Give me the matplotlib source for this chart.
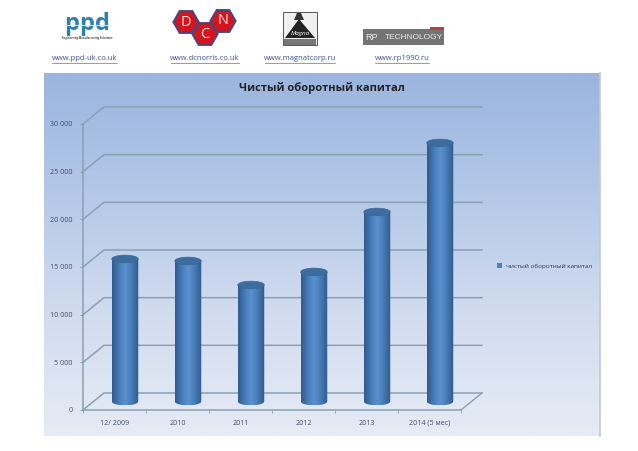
import numpy as np
import matplotlib
matplotlib.use('Agg')
import matplotlib.pyplot as plt
from matplotlib.colors import LinearSegmentedColormap
from matplotlib.patches import Ellipse, PathPatch, Polygon, Rectangle, RegularPolygon, Patch
from matplotlib.path import Path

categories = ['12/ 2009', '2010', '2011', '2012', '2013', '2014 (5 мес)']
values = [14950, 14740, 12220, 13590, 19880, 27120]
y_ticks = [0, 5000, 10000, 15000, 20000, 25000, 30000]
title = 'Чистый оборотный капитал'
legend_label = 'чистый оборотный капитал'
links = ['www.ppd-uk.co.uk', 'www.dcnorris.co.uk', 'www.magnatcorp.ru', 'www.rp1990.ru']

plt.rcParams['font.family'] = ['Open Sans', 'DejaVu Sans']

W, H = 638, 451
fig = plt.figure(figsize=[W / 100, H / 100], dpi=100, facecolor='white')

# whole figure in pixels, for the letterhead and the gradient panel
bg = fig.add_axes([0, 0, 1, 1])
bg.axis('off')

panel_cmap = LinearSegmentedColormap.from_list('panel', ['#9bb5df', '#b4c8e8', '#d2dcef', '#e6ebf5'])
bg.imshow(np.linspace(0, 1, 256).reshape(-1, 1), cmap=panel_cmap, aspect='auto',
          extent=[44, 600, 436, 73], zorder=1)
bg.plot([600, 600], [73, 436], color='#c4c8cc', lw=1.2, zorder=2)
bg.set_xlim(0, W)
bg.set_ylim(H, 0)

# logos
for x, ch in [(72, 'p'), (87, 'p'), (102, 'd')]:
    bg.text(x, 30, ch, color='#2f7fb0', fontsize=17, fontweight='bold', ha='center', va='baseline')
bg.add_patch(Rectangle((64, 24.5), 46, 1.5, fc='#dfe6ee', ec='none', zorder=4))
bg.text(87, 38.5, 'Engineering Manufacturing Solutions', fontsize=1.9, fontweight='bold',
        ha='center', va='center', color='#444444')

for x, y, ch in [(186, 22, 'D'), (205, 34, 'C'), (223, 21, 'N')]:
    bg.add_patch(RegularPolygon((x, y), 6, radius=12.5, orientation=np.pi / 2,
                                fc='#d8131c', ec='#4f4478', lw=1.6))
    bg.text(x, y, ch, color='#f6e6e6', fontsize=10.5, ha='center', va='center')

bg.add_patch(Rectangle((283, 12), 34, 33, fc='#f0f0f0', ec='#555555', lw=0.7))
bg.add_patch(Polygon([[285, 38], [299, 19], [315, 38]], fc='#222222', ec='none'))
bg.add_patch(Polygon([[297, 13], [301, 13], [304, 20], [294, 20]], fc='#333333', ec='none'))
bg.add_patch(Rectangle((284, 39), 32, 5.5, fc='#777777', ec='none'))
bg.text(300, 33.5, 'Magna', color='white', fontsize=4.5, style='italic', ha='center', va='center')

bg.add_patch(Rectangle((363, 29), 81, 16, fc='#747474', ec='none'))
bg.add_patch(Rectangle((430, 27), 14, 2.5, fc='#b84040', ec='none'))
bg.text(365.5, 37.5, 'RP', color='#ececec', fontsize=6.6, ha='left', va='center', family=['Liberation Sans'])
bg.text(442.5, 37.5, 'TECHNOLOGY', color='#ececec', fontsize=6, ha='right', va='center', family=['Liberation Sans'])

# links
for label, x0, x1 in zip(links, [52, 171, 265, 375], [117, 239, 335, 429]):
    bg.text((x0 + x1) / 2, 58.5, label, color='#3f4f98', fontsize=5.5, ha='center', va='center')
    bg.plot([x0, x1], [62.5, 62.5], color='#6570ad', lw=0.5)

bg.text(321.5, 88, title, fontsize=8.0, fontweight='bold', color='#222222', ha='center', va='center', zorder=3)

# chart: front plane of the 3d box
left, right, bottom, top = 83, 461, 410, 124
ax = fig.add_axes([left / W, 1 - bottom / H, (right - left) / W, (bottom - top) / H])
ax.patch.set_alpha(0)

dx = 21 / (right - left) * 6
dy = 17 / (bottom - top) * 30000
grid_color = '#8c9fb4'

for v in y_ticks:
    ax.plot([-0.5, -0.5 + dx, 5.5 + dx], [v, v + dy, v + dy], color=grid_color, lw=1.1,
            clip_on=False, zorder=1)
ax.plot([5.5, 5.5 + dx], [0, dy], color=grid_color, lw=1, clip_on=False, zorder=1)

# bars: cylinders half way into the depth
bar_cmap = LinearSegmentedColormap.from_list('bar', ['#2f5c90', '#3f70a8', '#4f84c2', '#5a90cf',
                                                     '#4d82bf', '#3e6fa6', '#2e5a8e'])
bw = 0.42
eh = 800
off_x = dx / 2
off_y = dy / 2
for i, v in enumerate(values):
    x0 = i + off_x - bw / 2
    x1 = x0 + bw
    y0 = off_y
    y1 = off_y + v
    im = ax.imshow(np.linspace(0, 1, 64).reshape(1, -1), cmap=bar_cmap, aspect='auto',
                   extent=[x0, x1, y0 - eh / 2, y1], zorder=3)
    xs = np.linspace(x0, x1, 40)
    low = y0 - eh / 2 * np.sqrt(np.clip(1 - ((xs - (x0 + x1) / 2) / (bw / 2)) ** 2, 0, 1))
    verts = [(x0, y1), (x1, y1)] + list(zip(xs[::-1], low[::-1])) + [(x0, y1)]
    clip = PathPatch(Path(verts), transform=ax.transData, fc='none', ec='none')
    ax.add_patch(clip)
    im.set_clip_path(clip)
    ax.add_patch(Ellipse((i + off_x, y1), bw, eh, fc='#3d6c9f', ec='#3a6798', lw=0.5, zorder=4, clip_on=False))

ax.set_xlim(-0.5, 5.5)
ax.set_ylim(0, 30000)

for side in ['top', 'right']:
    ax.spines[side].set_visible(False)
for side in ['left', 'bottom']:
    ax.spines[side].set_color(grid_color)
    ax.spines[side].set_linewidth(1.1)
    ax.spines[side].set_zorder(2)
ax.set_yticks(y_ticks)
ax.set_yticklabels([f'{v:,}'.replace(',', ' ') for v in y_ticks])
ax.set_xticks(np.arange(7) - 0.5, minor=True)
ax.set_xticks(np.arange(6))
ax.set_xticklabels(categories)
ax.tick_params(axis='x', which='major', length=0, pad=7, labelsize=5.1, labelcolor='#3f4d66')
ax.tick_params(axis='x', which='minor', length=2.5, color=grid_color, direction='out')
ax.tick_params(axis='y', length=2.5, color=grid_color, pad=5, labelsize=5.1, labelcolor='#3f4d66')

fig.legend(handles=[Patch(fc='#4f81bd', label=legend_label)], loc='center left',
           bbox_to_anchor=(491 / W, 1 - 266 / H), frameon=False, fontsize=4.55,
           handlelength=0.9, handleheight=0.9, handletextpad=0.5, labelcolor='#2a3550')

fig.savefig('out.png', dpi=100)
plt.close(fig)
